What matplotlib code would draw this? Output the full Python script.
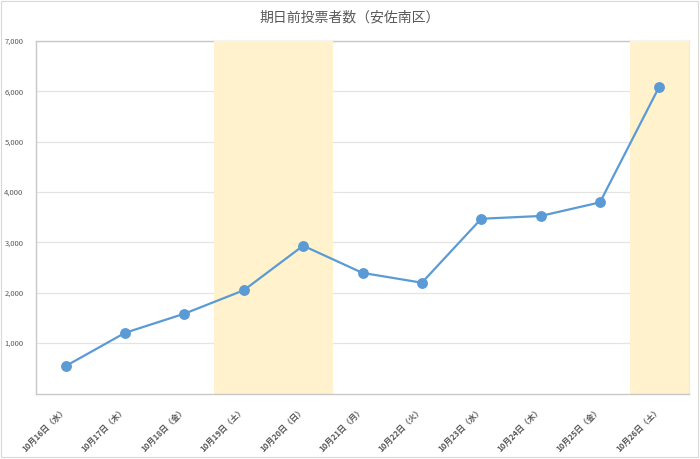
import matplotlib.pyplot as plt
import numpy as np
from matplotlib.patches import Rectangle

plt.rcParams['font.family'] = ['Noto Sans CJK JP', 'DejaVu Sans']

dates = ['10月16日（水）', '10月17日（木）', '10月18日（金）', '10月19日（土）',
         '10月20日（日）', '10月21日（月）', '10月22日（火）', '10月23日（水）',
         '10月24日（木）', '10月25日（金）', '10月26日（土）']
voters = [545, 1205, 1585, 2050, 2935, 2395, 2200, 3470, 3525, 3795, 6095]
weekend = [0, 0, 0, 7000, 7000, 0, 0, 0, 0, 0, 7000]

text_gray = '#595959'

fig = plt.figure(figsize=(7, 4.59), dpi=100)
ax = fig.add_axes([36 / 700, 1 - 393.5 / 459, 653 / 700, 352.5 / 459])

x = np.arange(len(dates))
ax.bar(x, weekend, width=1.0, color='#FFF2CC', zorder=2)
ax.plot(x, voters, color='#5B9BD5', linewidth=1.6, marker='o',
        markersize=6.8, zorder=3)

ax.set_xlim(-0.5, len(dates) - 0.5)
ax.set_ylim(0, 7000)
ax.set_yticks(range(1000, 8000, 1000))
ax.set_yticklabels([f'{v:,}' for v in range(1000, 8000, 1000)],
                   fontsize=5.5, color=text_gray)
ax.yaxis.grid(True, color='#E4E4E4', linewidth=0.9, zorder=1)
ax.set_axisbelow(True)

ax.set_xticks(x)
ax.set_xticklabels(dates, rotation=45, ha='right', va='center',
                   rotation_mode='anchor', fontsize=5.8, color=text_gray,
                   fontweight='bold')
ax.tick_params(axis='x', length=0, pad=11)
ax.tick_params(axis='y', length=0, pad=9)

for side in ['left', 'top', 'bottom']:
    ax.spines[side].set_color('#C8C8C8')
    ax.spines[side].set_linewidth(1.0)
ax.spines['right'].set_color('#EBEBEB')
ax.spines['right'].set_linewidth(0.8)
ax.spines['top'].set_zorder(1)

fig.text(0.5, 1 - 18 / 459, '期日前投票者数（安佐南区）', ha='center', va='center',
         fontsize=10, color=text_gray)

fig.patches.append(Rectangle((0.002, 0.004), 0.995, 0.993, transform=fig.transFigure,
                             fill=False, edgecolor='#D9D9D9', linewidth=0.8))

fig.savefig('out.png', dpi=100, facecolor='white')
